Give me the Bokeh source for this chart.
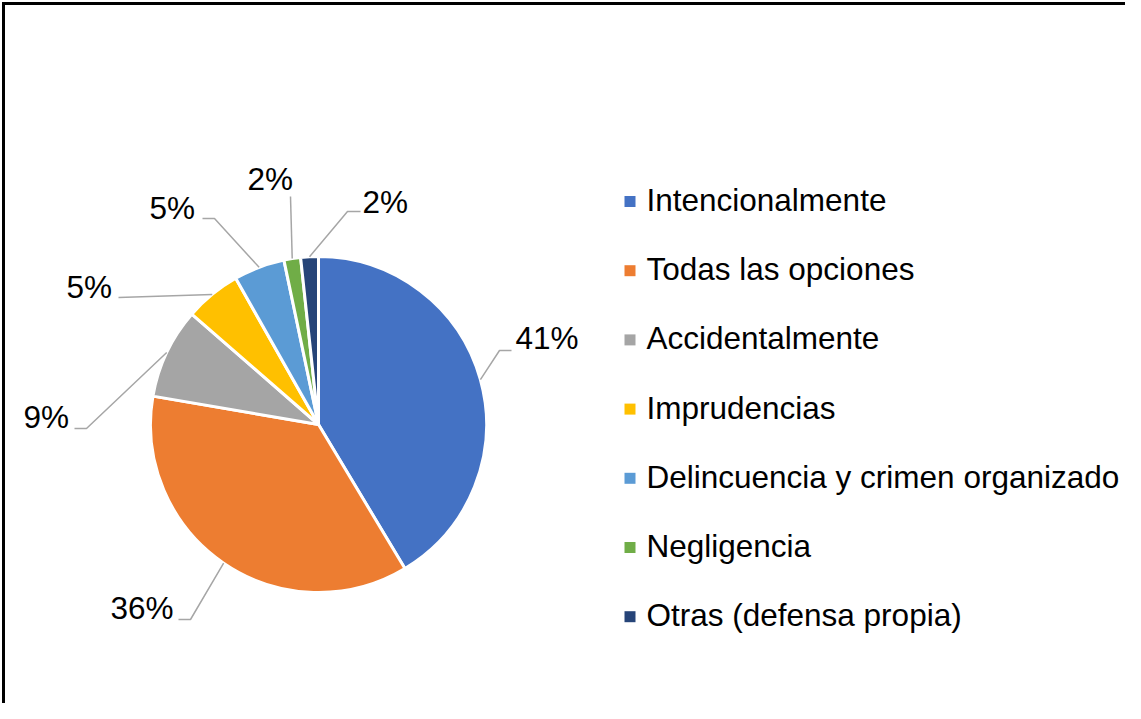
import math
from bokeh.plotting import figure
from bokeh.models import Range1d, ColumnDataSource
from bokeh.core.properties import value
from bokeh.embed import file_html
from bokeh.resources import INLINE

# ---- data ----
categories = ["Intencionalmente", "Todas las opciones", "Accidentalmente", "Imprudencias",
              "Delincuencia y crimen organizado", "Negligencia", "Otras (defensa propia)"]
shares = [41.4, 36.3, 8.7, 5.4, 4.9, 1.6, 1.7]
colors = ["#4472C4", "#ED7D31", "#A5A5A5", "#FFC000", "#5B9BD5", "#70AD47", "#264478"]

# ---- layout (pixel coordinates; y measured downward, drawn as -y) ----
W, H = 1125, 703
CX, CY, R = 318, 424, 168
FONT = value("Liberation Sans")
FS = "31.5px"
DY = -12  # baseline correction of the renderer
# per-label: elbow point, end point, label left x, label baseline y
label_layout = [
    ((499, 350), (511, 350), 515, 349),
    ((190, 619), (178, 619), 110, 619),
    ((86, 428), (74, 428), 23, 428),
    ((118, 297), (118, 297), 66, 298),
    ((214, 218), (202, 218), 149, 219),
    ((290, 196), (290, 196), 247, 190),
    ((347, 211), (360, 211), 362, 213),
]
legend_x_sq, legend_x_txt = 629.5, 646
legend_y0, legend_dy = 201, 69.2

p = figure(width=W, height=H, output_backend="svg", toolbar_location=None,
           x_range=Range1d(0, W), y_range=Range1d(-H, 0),
           min_border=0)
p.axis.visible = False
p.grid.visible = False
p.outline_line_color = None
p.background_fill_color = "white"
p.border_fill_color = "white"

# frame (left and top edges visible in the reference)
p.segment(x0=[3, 1.5], y0=[-1.5, -3], x1=[3, W + 5], y1=[-H, -3],
          line_color="black", line_width=3)

total = sum(shares)
cum = [0.0]
for s in shares:
    cum.append(cum[-1] + s / total)
start = [math.pi / 2 - 2 * math.pi * c for c in cum[:-1]]
end = [math.pi / 2 - 2 * math.pi * c for c in cum[1:]]

src = ColumnDataSource(dict(start=start, end=end, color=colors))
p.wedge(x=CX, y=-CY, radius=R, start_angle="start", end_angle="end", direction="clock",
        fill_color="color", line_color="white", line_width=3, source=src)

# leader lines and labels
xs, ys, lx, ly, lt = [], [], [], [], []
for i, s in enumerate(shares):
    mid = (cum[i] + cum[i + 1]) / 2 * 2 * math.pi
    ex = CX + R * math.sin(mid)
    ey = CY - R * math.cos(mid)
    (bx, by), (tx, ty), labx, laby = label_layout[i]
    xs.append([ex, bx, tx])
    ys.append([-ey, -by, -ty])
    lx.append(labx)
    ly.append(-(laby + DY))
    lt.append(f"{round(s / total * 100)}%")

p.multi_line(xs=xs, ys=ys, line_color="#A6A6A6", line_width=1.5)
p.text(x=lx, y=ly, text=lt, text_font=FONT, text_font_size=FS,
       text_align="left", text_baseline="alphabetic", text_color="black")

# legend
ry = [legend_y0 + legend_dy * i for i in range(len(categories))]
p.scatter(x=[legend_x_sq] * len(categories), y=[-y for y in ry], marker="square",
          size=11, fill_color=colors, line_color=None)
p.text(x=[legend_x_txt] * len(categories), y=[-(y + 10.5 + DY) for y in ry], text=categories,
       text_font=FONT, text_font_size=FS, text_align="left", text_baseline="alphabetic",
       text_color="black")

open("out.html", "w").write(file_html(p, INLINE))
